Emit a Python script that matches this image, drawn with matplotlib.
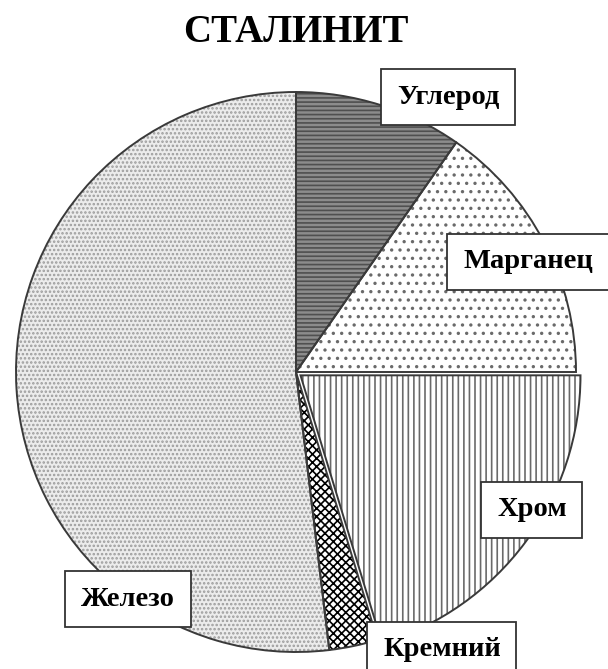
import matplotlib.pyplot as plt

# composition of stalinite alloy, %
elements = ["Углерод", "Марганец", "Хром", "Кремний", "Железо"]
shares = [9.7, 15.3, 20.3, 2.8, 51.9]

face_colors = ["#8c8c8c", "white", "white", "white", "#ececec"]
hatch_colors = ["#505050", "#6a6a6a", "#6a6a6a", "black", "#9c9c9c"]
hatches = ["----", "..", "|||", "xxxx", "...."]
explode = [0, 0, 0.02, 0, 0]

# label text left edge / centre line in figure pixels (x, y from top)
label_pos = [(397, 97), (463, 262), (497, 510), (383, 650), (81, 599)]

plt.rcParams["font.family"] = ["Liberation Serif", "DejaVu Serif"]
plt.rcParams["hatch.linewidth"] = 1.2

W, H = 608, 669
fig = plt.figure(figsize=(W / 100, H / 100), dpi=100)
cx, cy, r = 296, 372, 280
ax = fig.add_axes([(cx - r) / W, 1 - (cy + r) / H, 2 * r / W, 2 * r / H])

# hatched fills
wedges, _ = ax.pie(shares, startangle=90, counterclock=False, explode=explode,
                   colors=face_colors, radius=1,
                   wedgeprops=dict(linewidth=0))
for w, h, hc in zip(wedges, hatches, hatch_colors):
    w.set_hatch(h)
    w.set_edgecolor(hc)

# outlines on top
ax.pie(shares, startangle=90, counterclock=False, explode=explode, radius=1,
       wedgeprops=dict(fill=False, edgecolor="#3a3a3a", linewidth=1.4))
ax.set_xlim(-1, 1)
ax.set_ylim(-1, 1)
ax.set_aspect("equal")
ax.axis("off")

fig.text(cx / W, 1 - 33 / H, "СТАЛИНИТ", ha="center", va="center",
         fontsize=28, fontweight="bold")

for name, (x, y) in zip(elements, label_pos):
    fig.text(x / W, 1 - y / H, name, ha="left", va="center",
             fontsize=20.5, fontweight="bold",
             bbox=dict(boxstyle="square,pad=0.55", facecolor="white",
                       edgecolor="#333333", linewidth=1.3))

fig.savefig("out.png", dpi=100)
